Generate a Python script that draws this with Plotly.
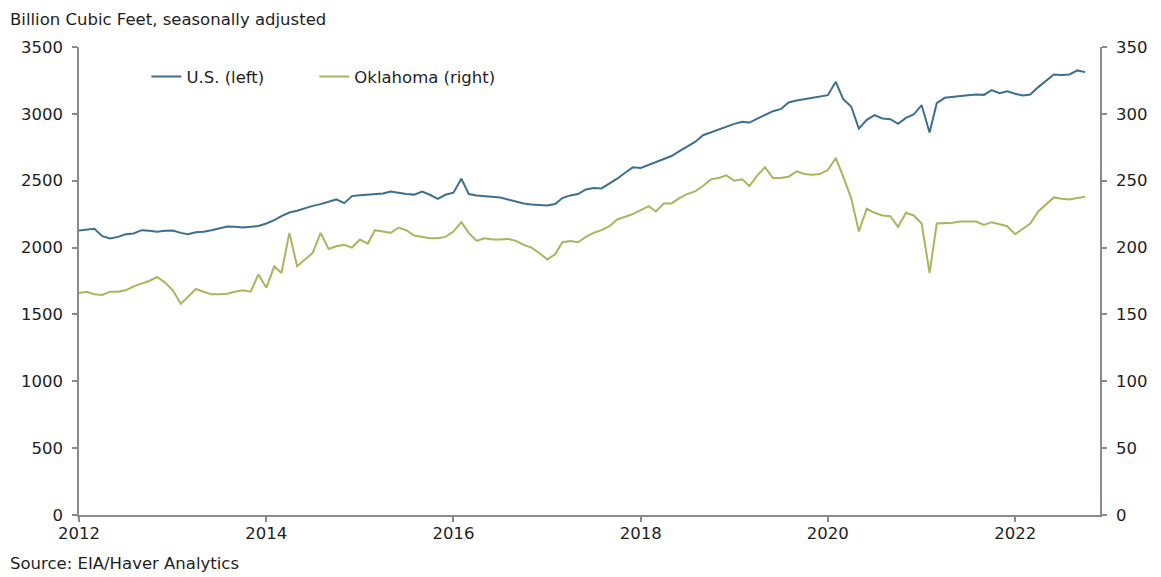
import pandas as pd
import plotly.graph_objects as go

start_month = "2012-01-01"

us_values = [
    2128, 2135, 2140, 2085, 2068, 2080, 2100, 2105, 2130, 2125, 2118, 2125,
    2128, 2110, 2100, 2115, 2118, 2130, 2145, 2158, 2155, 2150, 2155, 2162,
    2180, 2205, 2235, 2262, 2275, 2295, 2312, 2325, 2345, 2360, 2332, 2385,
    2392, 2395, 2398, 2405, 2420, 2410, 2400, 2396, 2418, 2395, 2365, 2395,
    2410, 2515, 2400, 2390, 2385, 2378, 2375, 2360, 2345, 2330, 2322, 2318,
    2315, 2325, 2370, 2390, 2400, 2435, 2445, 2442, 2478, 2515, 2560, 2600,
    2595, 2618, 2640, 2658, 2685, 2722, 2755, 2790, 2840, 2860, 2885, 2900,
    2925, 2940, 2935, 2965, 2995, 3020, 3035, 3085, 3100, 3110, 3120, 3128,
    3140, 3240, 3110, 3055, 2890, 2955, 2990, 2965, 2960, 2925, 2970, 2995,
    3065, 2860, 3080, 3120, 3128, 3135, 3140, 3145, 3142, 3178, 3155, 3168,
    3150, 3138, 3145, 3200, 3250, 3295, 3290, 3295, 3325, 3312,
]

oklahoma_values = [
    166, 167, 165, 164.5, 167, 167, 168, 171, 173, 175, 178, 174,
    168, 158, 163, 169, 167, 165, 165, 165.5, 167, 168, 167, 180,
    170, 186, 181, 211, 186, 191, 196, 211, 199, 201, 202, 200,
    206, 203, 213, 212, 211, 215, 213, 209, 208, 207, 207, 208,
    212, 219, 211, 205, 207, 206, 206, 206.5, 205, 202, 200, 196,
    191, 195, 204, 205, 204, 208, 211, 213, 216, 221, 223, 225,
    228, 231, 227, 233, 233, 237, 240, 242, 246, 251, 252, 254,
    250, 251, 246, 254, 260, 252, 252, 253, 257, 255, 254.5, 255,
    258, 267, 253, 237, 212, 229, 226, 224, 223.5, 215.5, 226, 224,
    218, 181, 218, 218, 218.5, 219.5, 219.5, 219.5, 217, 219, 217.5, 216,
    210, 214, 218, 227, 232, 237.5, 236.5, 236, 237, 238,
]

left_ticks = [0, 500, 1000, 1500, 2000, 2500, 3000, 3500]
right_ticks = [0, 50, 100, 150, 200, 250, 300, 350]

dates = pd.date_range(start_month, periods=len(us_values), freq="MS")

US_COLOR = "#3d6f8e"
OK_COLOR = "#a6b75e"
AXIS_COLOR = "#8a8a8a"
TEXT_COLOR = "#1e1e1e"
FONT = "DejaVu Sans"
FS = 16.5

fig = go.Figure()
fig.add_trace(go.Scatter(
    x=dates, y=us_values, name="U.S. (left)", mode="lines",
    line=dict(color=US_COLOR, width=2), yaxis="y", legend="legend",
))
fig.add_trace(go.Scatter(
    x=dates, y=oklahoma_values, name="Oklahoma (right)", mode="lines",
    line=dict(color=OK_COLOR, width=2), yaxis="y2", legend="legend2",
))

axis_common = dict(
    showgrid=False, zeroline=False,
    showline=True, linecolor=AXIS_COLOR, linewidth=1.5,
    ticks="outside", ticklen=5, tickcolor=AXIS_COLOR, tickwidth=1.5,
    tickfont=dict(size=FS, color=TEXT_COLOR),
)

legend_common = dict(
    orientation="h", y=0.974, xanchor="left", yanchor="top",
    bgcolor="rgba(0,0,0,0)", font=dict(size=FS, color=TEXT_COLOR),
    itemwidth=30,
)

fig.update_layout(
    width=1153, height=569,
    margin=dict(l=71, r=61, t=39, b=62, autoexpand=False),
    paper_bgcolor="white", plot_bgcolor="white",
    font=dict(family=FONT, size=FS, color=TEXT_COLOR),
    showlegend=True,
    legend=dict(x=0.066, **legend_common),
    legend2=dict(x=0.2305, **legend_common),
    xaxis=dict(
        type="date", range=["2012-01-01", "2022-11-28"],
        tickformat="%Y", dtick="M24", tick0="2012-01-01",
        ticklabelstandoff=-3,
        **axis_common,
    ),
    yaxis=dict(
        range=[0, 3500], tickvals=left_ticks, ticklabelstandoff=6,
        **axis_common,
    ),
    yaxis2=dict(
        range=[0, 350], tickvals=right_ticks, overlaying="y", side="right",
        ticklabelstandoff=6,
        **axis_common,
    ),
    annotations=[
        dict(text="Billion Cubic Feet, seasonally adjusted", xref="paper", yref="paper",
             x=-71 / 1021, y=1.0, yshift=28, xanchor="left", yanchor="middle",
             showarrow=False, font=dict(size=FS, color=TEXT_COLOR)),
        dict(text="Source: EIA/Haver Analytics", xref="paper", yref="paper",
             x=-71 / 1021, y=0.0, yshift=-48, xanchor="left", yanchor="middle",
             showarrow=False, font=dict(size=FS, color=TEXT_COLOR)),
    ],
)

fig.write_html("out.html")
